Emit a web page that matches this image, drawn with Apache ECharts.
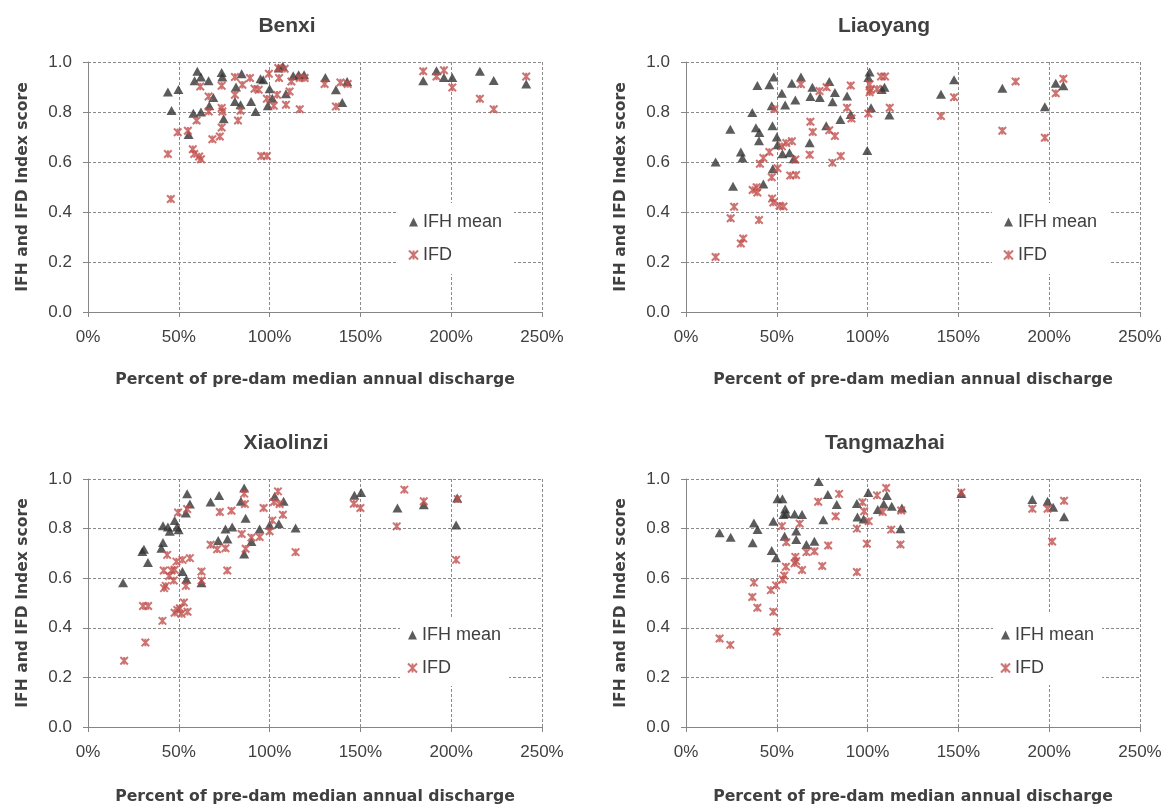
<!DOCTYPE html>
<html>
<head>
<meta charset="utf-8">
<title>IFH and IFD index scores vs. discharge</title>
<script src="https://cdn.jsdelivr.net/npm/echarts@6/dist/echarts.min.js"></script>
<style>
  html, body { margin: 0; padding: 0; background: #fff; }
  #chart { width: 1169px; height: 806px; }
</style>
</head>
<body>
<div id="chart"></div>
<script>
// Station names (panel titles)
const stations = ['Benxi', 'Liaoyang', 'Xiaolinzi', 'Tangmazhai'];

// Axis ticks
const xTicks = [0, 50, 100, 150, 200, 250];        // percent of pre-dam median annual discharge
const yTicks = [0, 0.2, 0.4, 0.6, 0.8, 1.0];        // index score

// [percent of pre-dam median annual discharge, score]
const benxiIFH = [
  [44.0,0.88],[46.0,0.806],[49.8,0.89],[55.4,0.71],[58.0,0.795],[60.2,0.963],[58.7,0.925],
  [62.2,0.94],[62.2,0.80],[66.4,0.925],[66.8,0.825],[69.0,0.858],[73.6,0.958],[74.0,0.94],
  [74.7,0.773],[81.5,0.90],[80.9,0.842],[84.6,0.953],[84.0,0.829],[89.8,0.842],[92.3,0.802],
  [95.0,0.933],[96.5,0.929],[99.0,0.825],[100.0,0.893],[101.5,0.855],[105.0,0.976],[107.3,0.983],
  [109.0,0.873],[113.0,0.945],[116.0,0.949],[119.0,0.949],[130.7,0.938],[136.5,0.889],
  [140.0,0.838],[142.7,0.922],[184.6,0.925],[191.9,0.965],[196.0,0.938],[200.6,0.938],
  [215.8,0.963],[223.4,0.926],[241.3,0.912]
];
const benxiIFD = [
  [44.0,0.632],[45.6,0.452],[49.4,0.719],[55.0,0.725],[57.7,0.651],[58.5,0.632],[59.8,0.766],
  [61.8,0.902],[62.2,0.611],[61.2,0.622],[66.4,0.862],[66.4,0.802],[68.5,0.691],[72.6,0.702],
  [73.6,0.738],[73.6,0.816],[74.0,0.802],[73.6,0.905],[80.9,0.94],[80.9,0.869],[82.6,0.766],
  [84.0,0.805],[85.0,0.909],[89.2,0.936],[91.7,0.893],[94.0,0.889],[95.4,0.624],[98.5,0.624],
  [98.5,0.853],[99.6,0.953],[102.3,0.825],[104.1,0.869],[104.8,0.976],[105.2,0.936],[109.0,0.829],
  [108.3,0.973],[111.0,0.882],[112.0,0.922],[116.6,0.811],[116.6,0.936],[119.3,0.936],
  [130.3,0.912],[136.5,0.822],[139.0,0.918],[143.0,0.912],[184.6,0.963],[191.9,0.942],
  [196.0,0.967],[200.6,0.898],[215.8,0.853],[223.4,0.811],[241.3,0.942]
];

const liaoyangIFH = [
  [16.3,0.60],[24.4,0.731],[25.9,0.503],[30.2,0.64],[31.1,0.616],[36.5,0.798],[38.5,0.737],
  [39.3,0.906],[40.4,0.718],[40.2,0.685],[42.6,0.512],[45.9,0.909],[47.2,0.825],[47.6,0.745],
  [48.3,0.94],[47.8,0.573],[50.0,0.70],[50.4,0.669],[52.8,0.875],[53.1,0.633],[54.6,0.828],
  [57.0,0.637],[58.3,0.915],[59.3,0.613],[60.2,0.848],[63.3,0.94],[68.1,0.677],[68.5,0.862],
  [69.6,0.899],[73.7,0.858],[77.2,0.745],[78.9,0.922],[80.7,0.841],[82.0,0.878],[85.0,0.77],
  [88.7,0.864],[90.7,0.79],[99.8,0.646],[101.1,0.96],[100.4,0.938],[101.9,0.817],[107.8,0.89],
  [109.3,0.899],[112.0,0.788],[140.4,0.871],[147.6,0.929],[174.2,0.895],[197.6,0.821],
  [203.6,0.915],[207.8,0.905]
];
const liaoyangIFD = [
  [16.3,0.22],[24.6,0.375],[26.5,0.421],[30.2,0.274],[31.5,0.294],[36.7,0.488],[38.9,0.499],
  [39.3,0.478],[40.2,0.368],[40.7,0.593],[42.6,0.616],[45.9,0.64],[47.2,0.539],[47.4,0.454],
  [48.1,0.438],[50.4,0.575],[48.7,0.812],[51.5,0.425],[53.7,0.422],[52.8,0.663],[55.2,0.676],
  [58.3,0.683],[60.2,0.61],[57.4,0.546],[60.6,0.548],[63.3,0.911],[68.1,0.629],[68.5,0.761],
  [69.8,0.72],[73.5,0.884],[77.4,0.899],[78.9,0.727],[82.0,0.704],[80.6,0.597],[85.2,0.624],
  [88.7,0.817],[90.7,0.906],[91.1,0.774],[100.4,0.794],[101.1,0.911],[101.5,0.888],[101.1,0.879],
  [105.2,0.892],[107.4,0.942],[109.6,0.942],[112.2,0.817],[140.4,0.784],[147.6,0.859],
  [174.2,0.725],[181.5,0.922],[197.6,0.697],[203.6,0.875],[207.8,0.933]
];

const xiaolinziIFH = [
  [19.3,0.582],[30.8,0.717],[29.9,0.708],[33.0,0.663],[41.3,0.811],[41.3,0.744],[40.4,0.721],
  [44.0,0.806],[45.0,0.789],[47.7,0.833],[49.0,0.806],[49.9,0.795],[52.0,0.627],[53.9,0.863],
  [54.6,0.941],[56.1,0.899],[54.2,0.596],[62.5,0.582],[67.5,0.907],[72.2,0.933],[71.7,0.752],
  [75.7,0.798],[76.8,0.758],[79.4,0.806],[86.0,0.964],[84.2,0.91],[86.8,0.842],[86.0,0.698],
  [90.0,0.748],[94.5,0.798],[100.0,0.815],[102.8,0.93],[105.1,0.82],[107.7,0.91],[114.3,0.802],
  [146.7,0.934],[150.4,0.946],[170.4,0.883],[184.9,0.896],[203.3,0.923],[202.7,0.815]
];
const xiaolinziIFD = [
  [19.9,0.267],[31.6,0.341],[30.3,0.488],[33.1,0.488],[41.0,0.428],[41.9,0.56],[42.8,0.569],
  [41.7,0.631],[43.6,0.694],[44.7,0.609],[46.0,0.631],[47.2,0.591],[47.7,0.634],[48.7,0.667],
  [47.7,0.461],[49.2,0.472],[50.6,0.479],[51.5,0.456],[52.8,0.502],[54.8,0.465],[53.9,0.569],
  [52.0,0.674],[56.1,0.681],[49.6,0.865],[54.6,0.879],[62.5,0.627],[62.5,0.591],[67.5,0.735],
  [71.1,0.717],[75.7,0.721],[76.7,0.631],[72.6,0.867],[79.0,0.872],[86.0,0.941],[86.4,0.899],
  [84.6,0.778],[86.8,0.719],[90.0,0.764],[94.5,0.766],[96.7,0.883],[101.5,0.833],[102.4,0.907],
  [104.6,0.95],[105.5,0.899],[100.0,0.789],[107.3,0.856],[114.3,0.705],[146.4,0.90],[150.0,0.883],
  [174.2,0.957],[170.0,0.809],[184.9,0.91],[203.6,0.919],[202.7,0.674]
];

const tangmazhaiIFH = [
  [18.5,0.783],[24.6,0.765],[36.7,0.743],[37.4,0.823],[39.4,0.796],[47.2,0.712],[49.6,0.682],
  [48.1,0.83],[50.4,0.92],[53.1,0.92],[54.6,0.879],[55.2,0.861],[53.7,0.857],[54.3,0.769],
  [59.8,0.859],[60.7,0.79],[60.7,0.756],[63.9,0.857],[66.3,0.736],[70.7,0.749],[73.1,0.99],
  [75.6,0.836],[78.1,0.937],[83.0,0.897],[94.1,0.901],[94.4,0.847],[97.8,0.839],[100.4,0.946],
  [105.6,0.877],[108.9,0.899],[110.6,0.933],[113.3,0.89],[118.9,0.883],[118.1,0.799],
  [151.6,0.942],[190.7,0.917],[199.1,0.91],[202.2,0.886],[208.2,0.848]
];
const tangmazhaiIFD = [
  [18.5,0.357],[24.4,0.331],[37.4,0.582],[36.5,0.524],[39.3,0.481],[48.1,0.465],[50.0,0.385],
  [46.7,0.552],[49.6,0.571],[53.3,0.595],[54.1,0.611],[55.0,0.646],[60.2,0.686],[60.7,0.669],
  [63.9,0.633],[59.8,0.66],[66.3,0.705],[70.7,0.709],[75.0,0.649],[52.8,0.81],[55.2,0.745],
  [62.6,0.82],[78.3,0.732],[72.8,0.908],[84.3,0.94],[82.4,0.85],[94.1,0.625],[94.1,0.80],
  [97.2,0.906],[98.1,0.87],[99.6,0.739],[100.6,0.83],[105.2,0.934],[108.3,0.867],[110.2,0.964],
  [113.0,0.796],[118.5,0.873],[118.1,0.736],[151.6,0.946],[190.7,0.88],[199.1,0.88],
  [201.6,0.748],[208.2,0.912]
];

const panelData = [
  [benxiIFH, benxiIFD],
  [liaoyangIFH, liaoyangIFD],
  [xiaolinziIFH, xiaolinziIFD],
  [tangmazhaiIFH, tangmazhaiIFD]
];

// Layout of the four plot areas (pixels)
const grids = [
  { left: 88,  top: 62,  width: 454, height: 250 },
  { left: 686, top: 62,  width: 454, height: 250 },
  { left: 88,  top: 479, width: 454, height: 248 },
  { left: 686, top: 479, width: 454, height: 248 }
];
const xNameGaps = [60, 60, 62, 62];
const titleCenters = [[287, 26], [884, 26], [286, 443], [885, 443]];
const legendBoxes = [
  { left: 398, top: 203, padding: [10, 12, 10, 10] },
  { left: 992, top: 203, padding: [10, 12, 10, 11] },
  { left: 400, top: 617, padding: [9, 8, 9, 7] },
  { left: 993, top: 614, padding: [12, 8, 8, 7] }
];

const AXIS_GRAY = '#868686';
const GRID_GRAY = '#8a8a8a';
const TEXT = '#404040';
const IFH_COLOR = '#333333';
const IFD_COLOR = '#c0504d';
// Asterisk-like cross marker (X with a vertical stroke)
const CROSS = 'path://M0,0L10,10M10,0L0,10M5,0L5,10';

const xAxes = [], yAxes = [], series = [], legends = [], graphics = [];

grids.forEach((g, i) => {
  xAxes.push({
    gridIndex: i, type: 'value',
    min: xTicks[0], max: xTicks[xTicks.length - 1], interval: xTicks[1] - xTicks[0],
    name: 'Percent of pre-dam median annual discharge',
    nameLocation: 'middle', nameGap: xNameGaps[i],
    nameTextStyle: { fontFamily: 'DejaVu Sans', fontWeight: 'bold', fontSize: 15.7, color: TEXT },
    axisLine: { show: true, onZero: false, lineStyle: { color: AXIS_GRAY, width: 1 } },
    axisTick: { show: true, length: 5, lineStyle: { color: AXIS_GRAY } },
    axisLabel: { formatter: '{value}%', color: TEXT, fontFamily: 'Liberation Sans', fontSize: 17, margin: 17 },
    splitLine: { show: true, lineStyle: { color: GRID_GRAY, width: 1, type: [3, 2] } }
  });
  yAxes.push({
    gridIndex: i, type: 'value',
    min: yTicks[0], max: yTicks[yTicks.length - 1], interval: 0.2,
    name: 'IFH and IFD Index score',
    nameLocation: 'middle', nameGap: 57, nameRotate: 90,
    nameTextStyle: { fontFamily: 'DejaVu Sans', fontWeight: 'bold', fontSize: 15.6, color: TEXT },
    axisLine: { show: true, lineStyle: { color: AXIS_GRAY, width: 1 } },
    axisTick: { show: true, length: 5, lineStyle: { color: AXIS_GRAY } },
    axisLabel: { formatter: v => v.toFixed(1), color: TEXT, fontFamily: 'Liberation Sans', fontSize: 17, margin: 16 },
    splitLine: { show: true, lineStyle: { color: GRID_GRAY, width: 1, type: [3, 2] } }
  });

  const [ifh, ifd] = panelData[i];
  series.push({
    name: 'IFH mean', type: 'scatter', xAxisIndex: i, yAxisIndex: i,
    symbol: 'triangle', symbolSize: [10, 9],
    itemStyle: { color: IFH_COLOR },
    data: ifh, z: 2
  });
  series.push({
    name: 'IFD', type: 'scatter', xAxisIndex: i, yAxisIndex: i,
    symbol: CROSS, symbolSize: 7.5,
    itemStyle: { color: IFD_COLOR, borderColor: IFD_COLOR, borderWidth: 2 },
    data: ifd, z: 3
  });

  const lb = legendBoxes[i];
  legends.push({
    data: ['IFH mean', 'IFD'],
    orient: 'vertical',
    left: lb.left, top: lb.top, padding: lb.padding,
    backgroundColor: '#ffffff',
    itemWidth: 9, itemHeight: 9, itemGap: 15,
    selectedMode: false,
    textStyle: { fontFamily: 'Liberation Sans', fontSize: 18, color: TEXT },
    z: 4
  });

  graphics.push({
    type: 'text', x: titleCenters[i][0], y: titleCenters[i][1],
    style: {
      text: stations[i], textAlign: 'center', textVerticalAlign: 'middle',
      font: 'bold 21px "Liberation Sans"', fill: TEXT
    }
  });
});

const chart = echarts.init(document.getElementById('chart'), null, { renderer: 'canvas' });
chart.setOption({
  backgroundColor: '#ffffff',
  animation: false,
  grid: grids.map(g => Object.assign({ containLabel: false }, g)),
  xAxis: xAxes,
  yAxis: yAxes,
  legend: legends,
  graphic: graphics,
  series: series
});
</script>
</body>
</html>
